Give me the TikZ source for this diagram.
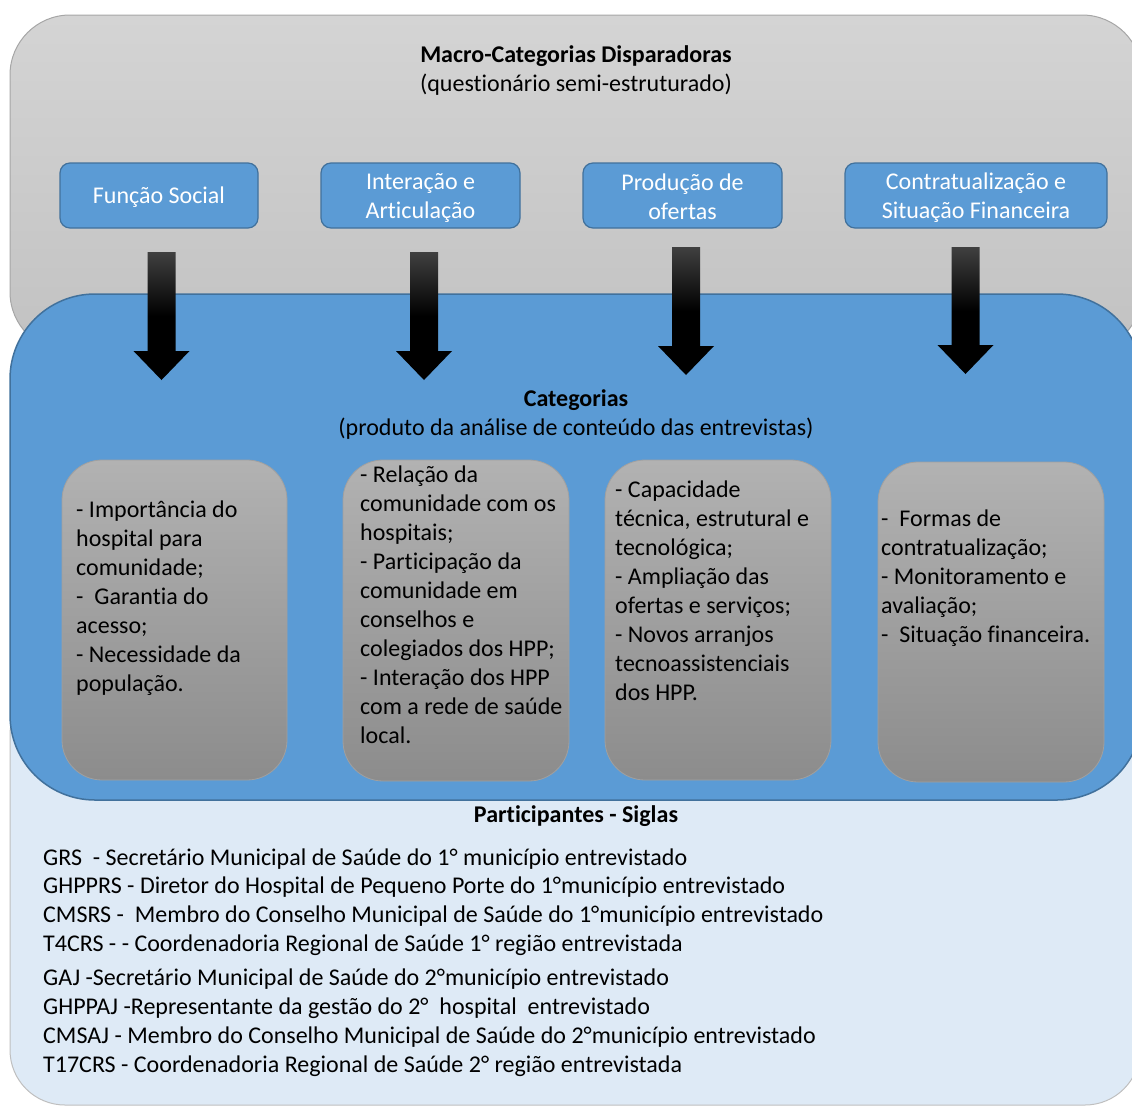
\documentclass[tikz,border=0pt]{standalone}
\usepackage{fontspec}
\setmainfont{Carlito}[Ligatures={NoCommon}]
\definecolor{topgrayA}{HTML}{D4D4D4}
\definecolor{topgrayB}{HTML}{C2C2C2}
\definecolor{topgrayline}{HTML}{A6A6A6}
\definecolor{bluefill}{HTML}{5B9BD5}
\definecolor{blueline}{HTML}{41719C}
\definecolor{lightfill}{HTML}{DEEAF6}
\definecolor{lightline}{HTML}{BFBFBF}
\definecolor{catA}{HTML}{B2B2B2}
\definecolor{catB}{HTML}{8C8C8C}
\definecolor{catline}{HTML}{A0A0A0}
\definecolor{arrowtop}{HTML}{404040}
\newcommand{\blockarrow}[5]{%
  % #1 name, #2 centre x, #3 top y, #4 head top y, #5 tip y
  \path[blockarr] (#2-14,#3) -- (#2+14,#3) -- (#2+14,#4) -- (#2+28,#4)
     -- (#2,#5) coordinate (#1) -- (#2-28,#4) -- (#2-14,#4) -- cycle;}
\begin{document}
\begin{tikzpicture}[x=1pt,y=-1pt,
  base/.style={font=\fontsize{24}{29}\selectfont, inner sep=0pt},
  boldtxt/.style={base, font=\fontsize{24}{29}\selectfont\bfseries, align=center},
  macrobox/.style={draw=blueline, fill=bluefill, line width=1.2pt, rounded corners=10pt, inner sep=0pt},
  macrotxt/.style={text=white, font=\fontsize{24}{29}\selectfont, align=center, inner sep=0pt},
  catbox/.style={draw=catline, top color=catA, bottom color=catB, rounded corners=40pt, line width=0.8pt},
  cattxt/.style={base, align=left, anchor=north west, text=black},
  blockarr/.style={top color=arrowtop, bottom color=black, middle color=black},
]
\useasboundingbox (0,0) rectangle (1132,1106);
\begin{scope}
\clip (0,0) rectangle (1132,1106);
% bottom light box
\draw[draw=lightline, fill=lightfill, line width=1pt, rounded corners=55pt] (10,680) rectangle (1140,1105);
% top gray box
\draw[draw=topgrayline, top color=topgrayA, bottom color=topgrayB, line width=1pt, rounded corners=60pt] (10,15) rectangle (1142,352);
% blue box
\draw[draw=blueline, fill=bluefill, line width=1.5pt, rounded corners=85pt] (10,294) rectangle (1142,800);
\end{scope}

% titles
\node[boldtxt, anchor=north] (title) at (576,41.7) {\strut Macro-Categorias Disparadoras\\\mdseries(questionário semi-estruturado)};
\node[boldtxt, anchor=north] (cattitle) at (576,385.7) {\strut Categorias\\\mdseries(produto da análise de conteúdo das entrevistas)};
\node[boldtxt, anchor=north] (parttitle) at (576,801.7) {\strut Participantes - Siglas};

% macro boxes
\node[macrobox, minimum width=198pt, minimum height=65pt] (m1) at (159,195.5) {};
\node[macrobox, minimum width=199pt, minimum height=65pt] (m2) at (420.5,195.5) {};
\node[macrobox, minimum width=199pt, minimum height=65pt] (m3) at (682.5,195.5) {};
\node[macrobox, minimum width=262pt, minimum height=65pt] (m4) at (976,195.5) {};
\node[macrotxt] (m1t) at ([yshift=-2pt]m1.center) {Função Social};
\node[macrotxt] (m2t) at ([yshift=-2pt]m2.center) {Interação e\\Articulação};
\node[macrotxt] (m3t) at ([yshift=-1pt]m3.center) {Produção de\\ofertas};
\node[macrotxt] (m4t) at ([yshift=-2pt]m4.center) {Contratualização e\\Situação Financeira};

% arrows
\blockarrow{a1}{161.5}{252}{351}{380}
\blockarrow{a2}{424}{252}{351}{380}
\blockarrow{a3}{686}{247}{346}{375}
\blockarrow{a4}{965.5}{247}{345}{374}

% category boxes
\draw[catbox] (62,460) rectangle (287,780);
\draw[catbox] (343,460) rectangle (569,781);
\draw[catbox] (605,460) rectangle (831,780);
\draw[catbox] (878,462) rectangle (1104,782);

\node[cattxt] (c1) at (76,496.7) {\strut- Importância do\\hospital para\\comunidade;\\-\ \ Garantia do\\acesso;\\- Necessidade da\\população.};
\node[cattxt] (c2) at (360,461.7) {\strut- Relação da\\comunidade com os\\hospitais;\\- Participação da\\comunidade em\\conselhos e\\colegiados dos HPP;\\- Interação dos HPP\\com a rede de saúde\\local.};
\node[cattxt] (c3) at (615,476.7) {\strut- Capacidade\\técnica, estrutural e\\tecnológica;\\- Ampliação das\\ofertas e serviços;\\- Novos arranjos\\tecnoassistenciais\\dos HPP.};
\node[cattxt] (c4) at (881,505.7) {\strut-\ \ Formas de\\contratualização;\\- Monitoramento e\\avaliação;\\-\ \ Situação financeira.};

% participants list
\node[base, align=left, anchor=north west, font=\fontsize{24}{28.8}\selectfont] (plist) at (43,844.7) {\strut GRS\ \ - Secretário Municipal de Saúde do 1° município entrevistado\\
GHPPRS - Diretor do Hospital de Pequeno Porte do 1°município entrevistado\\
CMSRS -\ \ Membro do Conselho Municipal de Saúde do 1°município entrevistado\\
T4CRS - - Coordenadoria Regional de Saúde 1° região entrevistada\\[5.5pt]
GAJ -Secretário Municipal de Saúde do 2°município entrevistado\\
GHPPAJ -Representante da gestão do 2°\ \ hospital\ \ entrevistado\\
CMSAJ - Membro do Conselho Municipal de Saúde do 2°município entrevistado\\
T17CRS - Coordenadoria Regional de Saúde 2° região entrevistada};
\end{tikzpicture}
\end{document}
